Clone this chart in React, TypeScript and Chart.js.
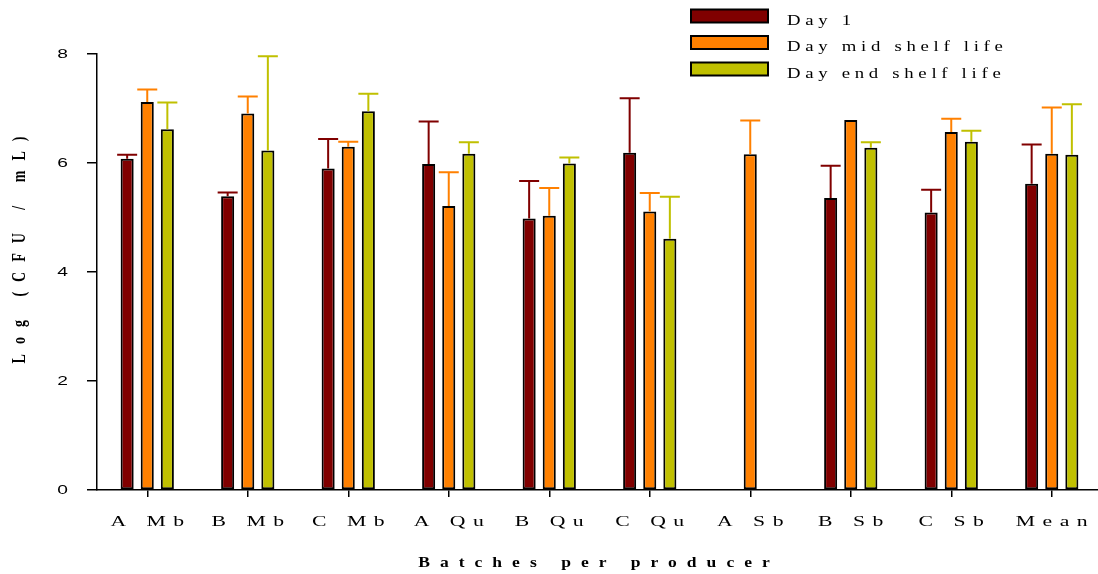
import { useEffect, useRef } from 'react';
import { Chart, registerables } from 'chart.js';

Chart.register(...registerables);

// ---------- data ----------
const categories = ['A Mb', 'B Mb', 'C Mb', 'A Qu', 'B Qu', 'C Qu', 'A Sb', 'B Sb', 'C Sb', 'Mean'];
const day1 = [6.08, 5.39, 5.9, 5.98, 4.98, 6.19, null, 5.36, 5.09, 5.62];
const day1Err = [0.07, 0.07, 0.54, 0.78, 0.69, 1.0, null, 0.59, 0.42, 0.72];
const dayMid = [7.12, 6.91, 6.3, 5.21, 5.03, 5.11, 6.16, 6.79, 6.57, 6.17];
const dayMidErr = [0.23, 0.31, 0.09, 0.62, 0.51, 0.34, 0.62, 0, 0.24, 0.85];
const dayEnd = [6.62, 6.23, 6.95, 6.17, 5.99, 4.61, null, 6.28, 6.39, 6.15];
const dayEndErr = [0.49, 1.73, 0.32, 0.21, 0.11, 0.77, null, 0.1, 0.2, 0.93];
const yTicks = [0, 2, 4, 6, 8];
const seriesNames = ['Day 1', 'Day mid shelf life', 'Day end shelf life'];
const seriesColors = ['#800000', '#FF8000', '#C0C000'];
const xTitle = 'Batches per producer';
const yTitle = 'Log (CFU / mL)';

const seriesValues = [day1, dayMid, dayEnd];
const seriesErrors = [day1Err, dayMidErr, dayEndErr];

type TextOpts = {
  x: number;
  y: number;
  font: string;
  sx?: number;
  sy?: number;
  ls?: number;
  rot?: number;
  align?: 'left' | 'center' | 'right';
  color?: string;
};

function drawText(ctx: CanvasRenderingContext2D, text: string, o: TextOpts) {
  const sx = o.sx ?? 1;
  const sy = o.sy ?? 1;
  const ls = o.ls ?? 0;
  const chars = [...text];
  ctx.save();
  ctx.font = o.font;
  ctx.fillStyle = o.color ?? '#000';
  ctx.textAlign = 'left';
  ctx.textBaseline = 'alphabetic';
  const anyCtx = ctx as any;
  const hasLS = 'letterSpacing' in ctx;
  if (hasLS) anyCtx.letterSpacing = '0px';
  const lsU = ls / sx;
  const base = ctx.measureText(text).width;
  const w = base + lsU * (chars.length - 1);
  let start = 0;
  if (o.align === 'center') start = -w / 2;
  else if (o.align === 'right') start = -w;
  ctx.translate(o.x, o.y);
  if (o.rot) ctx.rotate(o.rot);
  ctx.scale(sx, sy);
  if (hasLS) {
    anyCtx.letterSpacing = lsU + 'px';
    ctx.fillText(text, start, 0);
  } else {
    let cx = start;
    for (const ch of chars) {
      ctx.fillText(ch, cx, 0);
      cx += ctx.measureText(ch).width + lsU;
    }
  }
  ctx.restore();
}

const errorBarPlugin = {
  id: 'errorBars',
  afterDatasetsDraw(chart: any) {
    const ctx: CanvasRenderingContext2D = chart.ctx;
    const ys = chart.scales.y;
    ctx.save();
    seriesValues.forEach((vals, d) => {
      const meta = chart.getDatasetMeta(d);
      vals.forEach((v, i) => {
        const e = seriesErrors[d][i];
        if (v == null || e == null || e <= 0) return;
        const bar = meta.data[i];
        if (!bar) return;
        const x = bar.x;
        const yBar = ys.getPixelForValue(v);
        const yTop = ys.getPixelForValue(v + e);
        ctx.strokeStyle = seriesColors[d];
        ctx.lineWidth = 2;
        ctx.beginPath();
        ctx.moveTo(x, yBar);
        ctx.lineTo(x, yTop);
        ctx.moveTo(x - 10, yTop);
        ctx.lineTo(x + 10, yTop);
        ctx.stroke();
      });
    });
    ctx.restore();
  },
};

const textPlugin = {
  id: 'customText',
  afterDraw(chart: any) {
    const ctx: CanvasRenderingContext2D = chart.ctx;
    const xs = chart.scales.x;
    const ys = chart.scales.y;
    const serif = '"Liberation Serif", "Times New Roman", serif';
    // x tick labels
    categories.forEach((c, i) => {
      drawText(ctx, c, {
        x: xs.getPixelForValue(i),
        y: 526,
        font: `14px ${serif}`,
        sx: 1.55,
        ls: 7.5,
        align: 'center',
      });
    });
    // y tick labels
    yTicks.forEach((v) => {
      drawText(ctx, String(v), {
        x: 68,
        y: ys.getPixelForValue(v) + 4,
        font: '12px "Liberation Sans", Arial, sans-serif',
        sx: 1.6,
        align: 'right',
      });
    });
    // x title
    drawText(ctx, xTitle, {
      x: 594,
      y: 567,
      font: `bold 15px ${serif}`,
      sx: 1.17,
      ls: 10,
      align: 'center',
    });
    // y title
    drawText(ctx, yTitle, {
      x: 25,
      y: 250,
      rot: -Math.PI / 2,
      sx: 1,
      sy: 1.37,
      font: `bold 14px ${serif}`,
      ls: 10,
      align: 'center',
    });
    // legend
    const rowTops = [9.5, 36, 62.5];
    seriesNames.forEach((name, k) => {
      ctx.save();
      ctx.fillStyle = seriesColors[k];
      ctx.fillRect(691, rowTops[k], 77, 13);
      ctx.strokeStyle = '#000';
      ctx.lineWidth = 2;
      ctx.strokeRect(691, rowTops[k], 77, 13);
      ctx.restore();
      drawText(ctx, name, {
        x: 787,
        y: rowTops[k] + 15,
        font: `15px ${serif}`,
        sx: 1.25,
        ls: 4.7,
        align: 'left',
      });
    });
  },
};

export default function App() {
  const ref = useRef<HTMLCanvasElement | null>(null);

  useEffect(() => {
    if (!ref.current) return;
    const chart = new Chart(ref.current, {
      type: 'bar',
      data: {
        labels: categories,
        datasets: seriesValues.map((vals, d) => ({
          label: seriesNames[d],
          data: vals,
          backgroundColor: seriesColors[d],
          borderColor: '#000',
          borderWidth: 2,
          borderSkipped: false,
          categoryPercentage: 0.6,
          barPercentage: 0.65,
        })),
      },
      options: {
        animation: false,
        responsive: false,
        devicePixelRatio: 1,
        layout: { padding: { top: 54, left: 0, right: 0, bottom: 0 } },
        plugins: {
          legend: { display: false },
          tooltip: { enabled: false },
          title: { display: false },
        },
        scales: {
          x: {
            type: 'category',
            offset: true,
            grid: {
              offset: false,
              drawOnChartArea: false,
              drawTicks: true,
              tickLength: 7,
              color: '#000',
              lineWidth: 1.5,
            },
            border: { display: true, color: '#000', width: 1.5 },
            ticks: { display: false },
            afterFit(s: any) {
              s.height = 84;
            },
          },
          y: {
            min: 0,
            max: 8,
            ticks: { display: false, stepSize: 2 },
            grid: {
              drawOnChartArea: false,
              drawTicks: true,
              tickLength: 10,
              color: '#000',
              lineWidth: 1.5,
            },
            border: { display: true, color: '#000', width: 1.5 },
            afterFit(s: any) {
              s.width = 97;
            },
          },
        },
      } as any,
      plugins: [errorBarPlugin, textPlugin],
    });
    return () => chart.destroy();
  }, []);

  return (
    <div
      style={{
        position: 'fixed',
        left: 0,
        top: 0,
        width: 1098,
        height: 574,
        overflow: 'hidden',
        background: '#fff',
      }}
    >
      <canvas ref={ref} width={1102} height={574} style={{ display: 'block' }} />
    </div>
  );
}
